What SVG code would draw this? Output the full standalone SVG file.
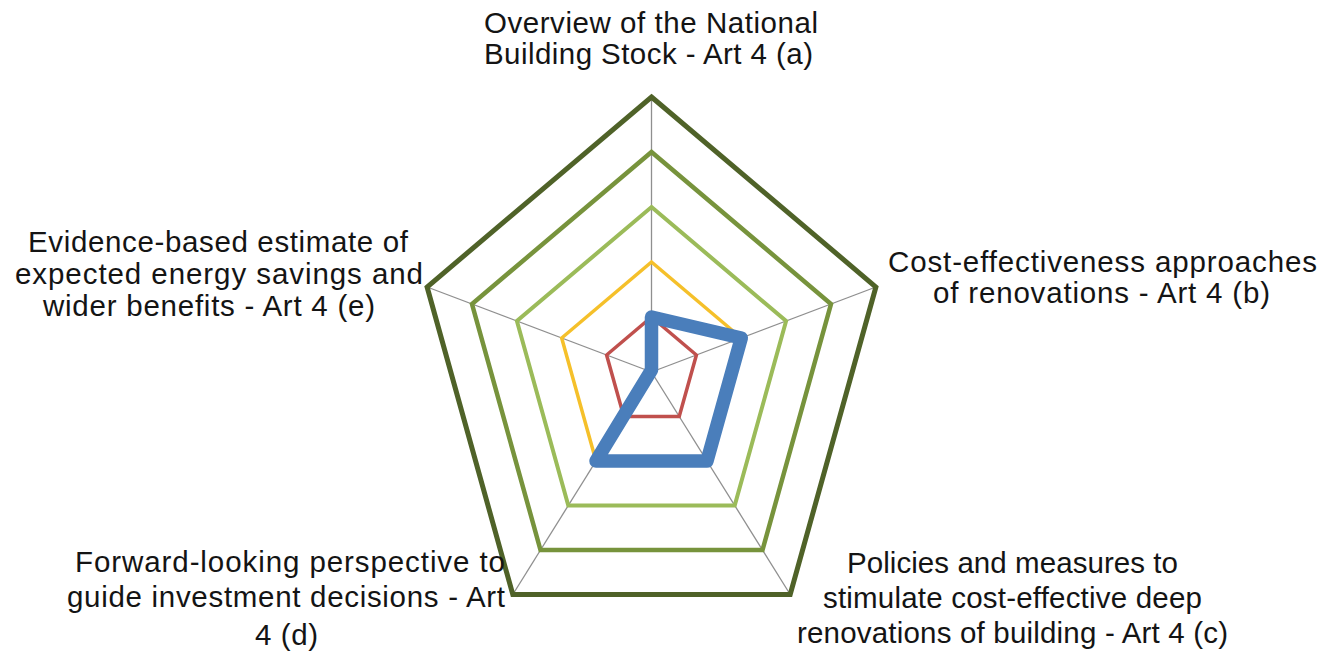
<svg xmlns="http://www.w3.org/2000/svg" width="1322" height="667" viewBox="0 0 1322 667">
<style>
.lbl{font-family:"Liberation Sans",Arial,sans-serif;font-size:29.5px;fill:#141414;text-anchor:middle}
.axis{stroke:#8f8f8f;stroke-width:1.3;fill:none}
.ring{fill:none;stroke-linejoin:miter}
.r1{stroke:#4f6228;stroke-width:5}
.r2{stroke:#77933c;stroke-width:4.5}
.r3{stroke:#9bbb59;stroke-width:4}
.r4{stroke:#f5c02a;stroke-width:3.5}
.r5{stroke:#c0504d;stroke-width:3.5}
.series{fill:none;stroke:#4a7ebb;stroke-width:13.5;stroke-linejoin:round;stroke-linecap:round}
</style>
<rect width="1322" height="667" fill="#ffffff"/>
<g id="axes">
<line class="axis" x1="651.5" y1="372" x2="651.5" y2="97"/>
<line class="axis" x1="651.5" y1="372" x2="875.9" y2="287"/>
<line class="axis" x1="651.5" y1="372" x2="790.2" y2="594.5"/>
<line class="axis" x1="651.5" y1="372" x2="512.8" y2="594.5"/>
<line class="axis" x1="651.5" y1="372" x2="427.1" y2="287"/>
</g>
<g id="rings">
<polygon id="ring-100" class="ring r1" points="651.5,97 875.9,287 790.2,594.5 512.8,594.5 427.1,287"/>
<polygon id="ring-80" class="ring r2" points="651.5,152 831,304 762.5,550 540.5,550 472,304"/>
<polygon id="ring-60" class="ring r3" points="651.5,207 786.1,321 734.7,505.5 568.3,505.5 516.9,321"/>
<polygon id="ring-40" class="ring r4" points="651.5,262 741.3,338 707,461 596,461 561.7,338"/>
<polygon id="ring-20" class="ring r5" points="651.5,317 696.4,355 679.2,416.5 623.8,416.5 606.6,355"/>
</g>
<g id="series">
<polygon class="series" points="651.5,317 741.3,338 707,461 596,461 651.5,370"/>
</g>
<g id="label-a">
<text class="lbl" x="651" y="33" textLength="334" lengthAdjust="spacing">Overview of the National</text>
<text class="lbl" x="648.5" y="64" textLength="329" lengthAdjust="spacing">Building Stock - Art 4 (a)</text>
</g>
<g id="label-b">
<text class="lbl" x="1102.5" y="272" textLength="429" lengthAdjust="spacing">Cost-effectiveness approaches</text>
<text class="lbl" x="1101.5" y="303" textLength="337" lengthAdjust="spacing">of renovations - Art 4 (b)</text>
</g>
<g id="label-c">
<text class="lbl" x="1012.5" y="573" textLength="331" lengthAdjust="spacing">Policies and measures to</text>
<text class="lbl" x="1012.5" y="608" textLength="379" lengthAdjust="spacing">stimulate cost-effective deep</text>
<text class="lbl" x="1012.5" y="643" textLength="431" lengthAdjust="spacing">renovations of building - Art 4 (c)</text>
</g>
<g id="label-d">
<text class="lbl" x="290" y="572" textLength="430" lengthAdjust="spacing">Forward-looking perspective to</text>
<text class="lbl" x="286" y="607" textLength="438" lengthAdjust="spacing">guide investment decisions - Art</text>
<text class="lbl" x="286.5" y="645" textLength="63" lengthAdjust="spacing">4 (d)</text>
</g>
<g id="label-e">
<text class="lbl" x="218" y="252" textLength="380" lengthAdjust="spacing">Evidence-based estimate of</text>
<text class="lbl" x="219" y="284" textLength="408" lengthAdjust="spacing">expected energy savings and</text>
<text class="lbl" x="209" y="316" textLength="332" lengthAdjust="spacing">wider benefits - Art 4 (e)</text>
</g>
</svg>
